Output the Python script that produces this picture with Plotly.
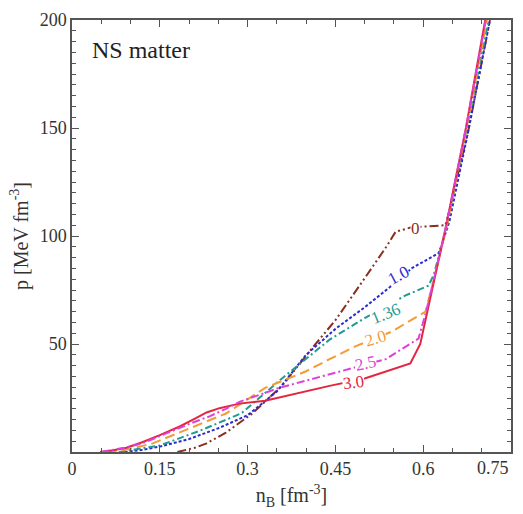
import plotly.graph_objects as go

# ---- data ----
nB_0 = [0.18, 0.21, 0.23, 0.263, 0.308, 0.36, 0.41, 0.45, 0.495, 0.537, 0.553, 0.58, 0.638, 0.645, 0.678, 0.714]
p_0 = [0, 2, 4, 9, 17.8, 31, 48, 61, 78.5, 95, 102, 104, 105, 112, 150, 200]

nB_10 = [0.09, 0.12, 0.15, 0.2, 0.25, 0.3, 0.35, 0.40, 0.45, 0.50, 0.553, 0.58, 0.626, 0.632, 0.645, 0.678, 0.714]
p_10 = [0, 1, 2.5, 6, 11, 17, 28, 45, 57, 67, 78.5, 85, 92, 96, 107, 150, 200]

nB_136 = [0.08, 0.11, 0.15, 0.22, 0.29, 0.354, 0.40, 0.44, 0.50, 0.57, 0.609, 0.618, 0.64, 0.675, 0.712]
p_136 = [0, 1.2, 3, 10, 18, 33, 43, 52, 62, 72.5, 77, 82, 104, 150, 200]

nB_20 = [0.06, 0.1, 0.138, 0.17, 0.206, 0.263, 0.33, 0.40, 0.44, 0.485, 0.546, 0.604, 0.62, 0.64, 0.674, 0.709]
p_20 = [0, 1.5, 4, 7.5, 11.4, 17.8, 29.7, 37.4, 43, 49, 55.7, 65, 82, 104, 150, 200]

nB_25 = [0.05, 0.09, 0.12, 0.15, 0.178, 0.205, 0.235, 0.263, 0.286, 0.354, 0.44, 0.536, 0.592, 0.605, 0.62, 0.639, 0.673, 0.707]
p_25 = [0, 2, 4, 7.2, 10.5, 13.5, 16.5, 20, 23.2, 29.7, 36, 43, 52.5, 65, 82, 104.5, 150, 200]

nB_30 = [0.048, 0.07, 0.093, 0.12, 0.15, 0.184, 0.21, 0.23, 0.252, 0.286, 0.33, 0.44, 0.50, 0.578, 0.595, 0.605, 0.62, 0.639, 0.673, 0.706]
p_30 = [0, 0.8, 2, 4.5, 7.8, 11.8, 15.5, 18.3, 20.3, 22.4, 23.7, 30.6, 34, 41, 50, 63, 81, 104.5, 150, 200]

labels = ["0", "1.0", "1.36", "2.0", "2.5", "3.0"]
label_x = [0.587, 0.558, 0.537, 0.518, 0.501, 0.481]
label_y = [103.6, 81.7, 64, 52.5, 41, 32]
label_angle = [0, -28, -22, -17, -12, -7]

x_tickvals = [0, 0.15, 0.3, 0.45, 0.6]
x_ticktext = ["0", "0.15", "0.3", "0.45", "0.6"]
y_tickvals = [50, 100, 150, 200]

colors = ["#8B2E1F", "#2B2BD0", "#1F9C8F", "#F39C35", "#E03FD8", "#E3263F"]
dashes = ["9px,3px,2px,3px,2px,3px", "3px,2px", "7px,3px,2px,3px", "10px,5px", "8px,3px,2px,3px", "solid"]

series = [(nB_0, p_0), (nB_10, p_10), (nB_136, p_136), (nB_20, p_20), (nB_25, p_25), (nB_30, p_30)]
order = [0, 1, 2, 3, 5, 4]

fig = go.Figure()
for i in order:
    x, y = series[i]
    fig.add_trace(go.Scatter(x=x, y=y, mode="lines", name=labels[i],
                             line=dict(color=colors[i], width=2, dash=dashes[i]),
                             showlegend=False))

serif = "Liberation Serif, DejaVu Serif, serif"
for i, t in enumerate(labels):
    fig.add_annotation(x=label_x[i], y=label_y[i], xref="x", yref="y", text=t,
                       showarrow=False, textangle=label_angle[i], bgcolor="white",
                       borderpad=0, font=dict(family=serif, size=17, color=colors[i]))

fig.add_annotation(x=0.03, y=186, xref="x", yref="y", text="NS matter", showarrow=False,
                   xanchor="left", font=dict(family=serif, size=24, color="#222"))
fig.add_annotation(x=0.75, y=0, xref="x", yref="paper", text="0.75", showarrow=False,
                   xanchor="right", yanchor="top", yshift=-4,
                   font=dict(family=serif, size=18, color="#333"))

axis_common = dict(showline=True, linecolor="#555", linewidth=1.5, mirror="ticks",
                   ticks="inside", tickcolor="#555", ticklen=7, tickwidth=1,
                   showgrid=False, zeroline=False,
                   tickfont=dict(family=serif, size=18, color="#333"))

fig.update_xaxes(range=[0, 0.75], tickvals=x_tickvals, ticktext=x_ticktext,
                 minor=dict(dtick=0.05, tick0=0, ticks="inside", ticklen=4, tickcolor="#555"),
                 title=dict(text="n<sub>B</sub> [fm<sup>-3</sup>]", font=dict(family=serif, size=20, color="#333"), standoff=10),
                 **axis_common)
fig.update_yaxes(range=[0, 200], tickvals=y_tickvals,
                 minor=dict(dtick=5, tick0=0, ticks="inside", ticklen=4, tickcolor="#555"),
                 title=dict(text="p [MeV fm<sup>-3</sup>]", font=dict(family=serif, size=20, color="#333"), standoff=6),
                 **axis_common)

fig.update_layout(width=523, height=514, margin=dict(l=72, r=10, t=13, b=62),
                  plot_bgcolor="white", paper_bgcolor="white")

fig.write_html("out.html")
